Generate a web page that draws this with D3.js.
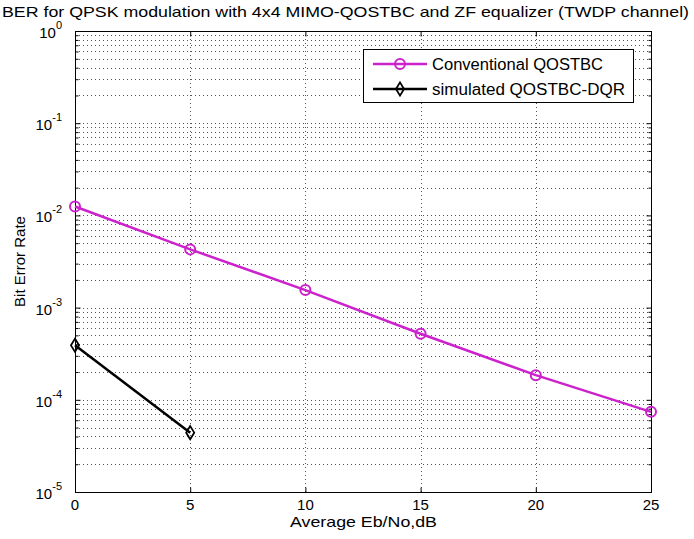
<!DOCTYPE html>
<html><head><meta charset="utf-8">
<script src="https://cdn.jsdelivr.net/npm/d3@7"></script>
<style>body{margin:0;background:#fff}svg{display:block}text{font-family:"Liberation Sans",Arial,sans-serif;fill:#000}</style>
</head><body><svg id="c" width="694" height="539"></svg>
<script>
const snr = [0, 5, 10, 15, 20, 25];
const berConventional = [0.0125, 0.00428, 0.00155, 0.00052, 0.000185, 0.000074];
const snrSimulated = [0, 5];
const berSimulated = [0.00039, 0.000044];
const xTicks = [0, 5, 10, 15, 20, 25];
const yDecades = [0, -1, -2, -3, -4, -5];
const seriesNames = ["Conventional QOSTBC", "simulated QOSTBC-DQR"];
const title = "BER for QPSK modulation with 4x4 MIMO-QOSTBC and ZF equalizer (TWDP channel)";

const svg = d3.select("#c");
const L = 75, R = 651, T = 31, B = 492;
const x = d3.scaleLinear().domain([0, 25]).range([L, R]);
const y = d3.scaleLog().domain([1e-5, 1]).range([B, T]);

const magenta = "#cc22cc";

// grid
const g = svg.append("g");
const minor = [];
for (let e = -5; e < 0; e++) for (let m = 2; m <= 9; m++) minor.push(m * Math.pow(10, e));
const majorY = yDecades.map(d => Math.pow(10, d));
g.selectAll(".gy").data(majorY.concat(minor).filter(v => v > 1e-5 && v < 1)).enter().append("line")
  .attr("x1", L).attr("x2", R).attr("y1", d => Math.round(y(d)) + 0.5).attr("y2", d => Math.round(y(d)) + 0.5)
  .attr("stroke", "#555").attr("stroke-width", 1).attr("stroke-dasharray", "1,3");
g.selectAll(".gx").data(xTicks.slice(1, -1)).enter().append("line")
  .attr("y1", T).attr("y2", B).attr("x1", d => Math.round(x(d)) + 0.5).attr("x2", d => Math.round(x(d)) + 0.5)
  .attr("stroke", "#555").attr("stroke-width", 1).attr("stroke-dasharray", "1,3");

// frame
svg.append("rect").attr("x", L + 0.5).attr("y", T + 0.5).attr("width", R - L).attr("height", B - T)
  .attr("fill", "none").attr("stroke", "#000").attr("stroke-width", 1);

// axes ticks (inside)
const axB = d3.axisBottom(x).tickValues(xTicks).tickSize(-5).tickFormat("");
const axT = d3.axisTop(x).tickValues(xTicks).tickSize(-5).tickFormat("");
svg.append("g").attr("transform", `translate(0,${B + 0.5})`).call(axB).call(a => a.select(".domain").remove());
svg.append("g").attr("transform", `translate(0,${T + 0.5})`).call(axT).call(a => a.select(".domain").remove());
const axL = d3.axisLeft(y).tickValues(majorY).tickSize(-5).tickFormat("");
const axR = d3.axisRight(y).tickValues(majorY).tickSize(-5).tickFormat("");
const axLm = d3.axisLeft(y).tickValues(minor).tickSize(-3).tickFormat("");
const axRm = d3.axisRight(y).tickValues(minor).tickSize(-3).tickFormat("");
[[axL, L], [axLm, L], [axR, R], [axRm, R]].forEach(([a, px]) =>
  svg.append("g").attr("transform", `translate(${px + 0.5},0)`).call(a).call(s => s.select(".domain").remove()));
svg.selectAll(".tick line").attr("stroke", "#000");

// tick labels
svg.selectAll(".xl").data(xTicks).enter().append("text")
  .attr("x", d => x(d)).attr("y", B + 18).attr("text-anchor", "middle").attr("font-size", 15).text(d => d);
const yl = svg.selectAll(".yl").data(yDecades).enter().append("text")
  .attr("x", L - 13).attr("y", d => y(Math.pow(10, d)) + 7).attr("text-anchor", "end").attr("font-size", 15);
yl.append("tspan").text("10");
yl.append("tspan").attr("dy", -9).attr("font-size", 11).text(d => d);

// labels
svg.append("text").attr("x", 2).attr("y", 17).attr("font-size", 15)
  .attr("textLength", 687).attr("lengthAdjust", "spacingAndGlyphs").text(title);
svg.append("text").attr("x", 290).attr("y", 527).attr("font-size", 15)
  .attr("textLength", 147).attr("lengthAdjust", "spacingAndGlyphs").text("Average Eb/No,dB");
svg.append("text").attr("transform", `translate(25,${(T + B) / 2}) rotate(-90)`).attr("text-anchor", "middle").attr("font-size", 15).text("Bit Error Rate");

// series
const line = d3.line().x(d => x(d[0])).y(d => y(d[1]));
const conv = snr.map((s, i) => [s, berConventional[i]]);
const sim = snrSimulated.map((s, i) => [s, berSimulated[i]]);
svg.append("path").datum(conv).attr("d", line).attr("fill", "none").attr("stroke", magenta).attr("stroke-width", 2.5);
svg.selectAll(".mc").data(conv).enter().append("circle").attr("cx", d => x(d[0])).attr("cy", d => y(d[1])).attr("r", 5)
  .attr("fill", "none").attr("stroke", magenta).attr("stroke-width", 2);
svg.append("path").datum(sim).attr("d", line).attr("fill", "none").attr("stroke", "#000").attr("stroke-width", 2.5);
const diamond = d3.symbol().type(d3.symbolDiamond).size(70);
svg.selectAll(".md").data(sim).enter().append("path").attr("d", diamond)
  .attr("transform", d => `translate(${x(d[0])},${y(d[1])}) scale(0.9,0.85)`)
  .attr("fill", "none").attr("stroke", "#000").attr("stroke-width", 2);

// legend
const lg = svg.append("g");
lg.append("rect").attr("x", 363.5).attr("y", 49.5).attr("width", 270).attr("height", 53).attr("fill", "#fff").attr("stroke", "#000");
const rows = [{c: magenta, n: seriesNames[0], m: "c", yy: 64, w: 171}, {c: "#000", n: seriesNames[1], m: "d", yy: 89, w: 193}];
rows.forEach(r => {
  lg.append("line").attr("x1", 373).attr("x2", 427).attr("y1", r.yy).attr("y2", r.yy).attr("stroke", r.c).attr("stroke-width", 2.5);
  if (r.m === "c") lg.append("circle").attr("cx", 400).attr("cy", r.yy).attr("r", 5).attr("fill", "none").attr("stroke", r.c).attr("stroke-width", 2);
  else lg.append("path").attr("d", diamond).attr("transform", `translate(400,${r.yy}) scale(0.9,0.85)`).attr("fill", "none").attr("stroke", r.c).attr("stroke-width", 2);
  lg.append("text").attr("x", 432).attr("y", r.yy + 6).attr("font-size", 16)
    .attr("textLength", r.w).attr("lengthAdjust", "spacingAndGlyphs").text(r.n);
});
</script></body></html>
